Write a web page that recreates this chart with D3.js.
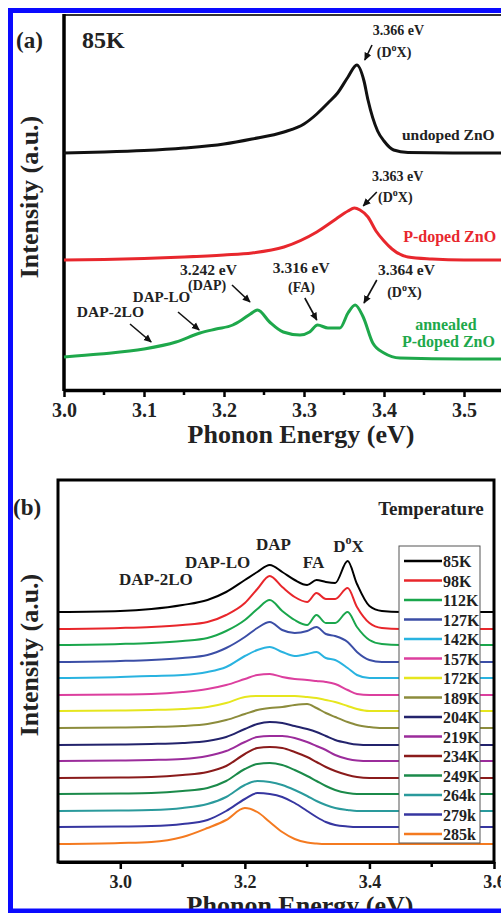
<!DOCTYPE html>
<html>
<head>
<meta charset="utf-8">
<script src="https://cdn.jsdelivr.net/npm/d3@7"></script>
<style>
  body { margin: 0; background: #fff; }
  svg { display: block; font-family: "Liberation Serif", "Times New Roman", serif; font-weight: bold; }
</style>
</head>
<body>
<script>
// ---------- panel (a): 85K spectra ----------
const energyUndoped = [3.00, 3.05, 3.10, 3.15, 3.20, 3.235, 3.275, 3.30, 3.316, 3.33, 3.342, 3.355, 3.366, 3.375, 3.38, 3.392, 3.40, 3.412, 3.43, 3.50, 3.60];
const undoped       = [0, 1, 2.5, 5, 9, 14, 21, 29, 39, 50, 60, 76, 88, 72, 53, 22, 12, 3, 0.5, 0, 0];

const energyPdoped = [3.00, 3.05, 3.10, 3.15, 3.20, 3.235, 3.275, 3.316, 3.34, 3.355, 3.363, 3.37, 3.38, 3.39, 3.40, 3.41, 3.43, 3.46, 3.50, 3.60];
const pdoped       = [0, 0.5, 1.5, 3, 5, 7, 13, 28, 41, 49, 52, 50, 43, 29, 19, 11, 3, 1, 0, 0];

const energyAnnealed = [3.00, 3.045, 3.10, 3.14, 3.17, 3.19, 3.211, 3.222, 3.233, 3.242, 3.257, 3.274, 3.295, 3.307, 3.317, 3.33, 3.345, 3.355, 3.364, 3.374, 3.386, 3.40, 3.42, 3.50, 3.60];
const annealed       = [2, 5, 10, 17, 26, 30, 34, 39, 45, 49, 37, 27, 24, 27, 34, 31, 31, 46, 54, 42, 16, 6, 1, 0, 0];

const offsetsA = [237, 130, 31];
const colorsA  = ["#111111", "#e8272d", "#1ea84b"];

// ---------- panel (b): temperature series ----------
const energyB = [2.90, 3.00, 3.05, 3.10, 3.14, 3.17, 3.20, 3.22, 3.24, 3.26, 3.28, 3.30, 3.315, 3.33, 3.345, 3.365, 3.38, 3.40, 3.42, 3.45, 3.60];
const temps   = ["85K", "98K", "112K", "127K", "142K", "157K", "172K", "189K", "204K", "219K", "234K", "249K", "264k", "279k", "285k"];
const offsetsB = [250, 233, 217, 200, 184, 167, 151, 134, 117, 101, 84, 68, 51, 35, 18];

const t85  = [0, 1, 3, 7, 12, 20, 32, 40, 47, 40, 32, 27, 32, 30, 29, 51, 28, 6, 1, 0, 0];
const t98  = [0, 1, 2, 4, 7, 14, 26, 40, 53, 42, 32, 27, 36, 30, 30, 41, 22, 6, 1, 0, 0];
const t112 = [0, 1, 2, 4, 7, 14, 25, 36, 45, 34, 25, 20, 30, 22, 22, 33, 18, 5, 1, 0, 0];
const t127 = [0, 1, 2, 4, 7, 14, 25, 34, 40, 32, 29, 31, 35, 28, 26, 20, 10, 2, 0, 0, 0];
const t142 = [0, 1, 2, 3, 6, 11, 22, 28, 31, 26, 22, 24, 26, 20, 18, 10, 3, 0, 0, 0, 0];
const t157 = [0, 0.5, 1, 3, 6, 10, 16, 20, 21, 18, 16, 15, 14, 13, 11, 5, 1, 0, 0, 0, 0];
const t172 = [0, 0.5, 1, 2, 4, 8, 14, 15, 15, 15, 15, 14, 13, 11, 9, 5, 2, 0, 0, 0, 0];
const t189 = [0, 0.5, 1, 2, 4, 8, 14, 18, 20, 21, 23, 24, 20, 15, 11, 6, 3, 1, 0, 0, 0];
const t204 = [0, 0.5, 1, 2, 4, 8, 16, 21, 23, 22, 19, 16, 13, 9, 5, 2, 0.5, 0, 0, 0, 0];
const t219 = [0, 0.5, 1, 2, 5, 10, 19, 24, 25, 25, 23, 19, 15, 11, 6, 2, 0.5, 0, 0, 0, 0];
const t234 = [0, 0.5, 1, 3, 6, 12, 24, 30, 31, 30, 26, 21, 16, 11, 7, 3, 1, 0, 0, 0, 0];
const t249 = [0, 0.5, 1, 3, 6, 13, 25, 30, 31, 29, 24, 18, 13, 8, 4, 1, 0, 0, 0, 0, 0];
const t264 = [0, 0.5, 1, 3, 7, 14, 26, 30, 29, 26, 21, 15, 10, 6, 3, 1, 0, 0, 0, 0, 0];
const t279 = [0, 0.5, 1, 3, 7, 16, 28, 34, 33, 30, 24, 16, 10, 5, 2, 0.5, 0, 0, 0, 0, 0];
const t285 = [0, 1, 2, 7, 16, 24, 36, 32, 22, 12, 5, 1.5, 0.5, 0, 0, 0, 0, 0, 0, 0, 0];
const seriesB = [t85, t98, t112, t127, t142, t157, t172, t189, t204, t219, t234, t249, t264, t279, t285];
const colorsB = ["#000000", "#e8262b", "#1aa64c", "#3b4ea6", "#29b3e0", "#dc3f9e", "#e6e61e", "#8c8c3c",
                 "#23236c", "#9b2c9b", "#8a1b1b", "#1b8a4a", "#2a9a9c", "#3636a0", "#f47a20"];

const ticksA = [3.0, 3.1, 3.2, 3.3, 3.4, 3.5];
const minorA = [3.05, 3.15, 3.25, 3.35, 3.45, 3.55];
const ticksB = [3.0, 3.2, 3.4, 3.6];
const minorB = [3.1, 3.3, 3.5];

const W = 501, H = 913;
const svg = d3.select("body").append("svg").attr("width", W).attr("height", H);

svg.append("defs").append("marker")
    .attr("id", "arr").attr("viewBox", "0 0 10 10")
    .attr("refX", 9).attr("refY", 5)
    .attr("markerWidth", 5).attr("markerHeight", 5)
    .attr("orient", "auto")
  .append("path").attr("d", "M0,0.5L10,5L0,9.5z").attr("fill", "#111");

// ================= panel (a) =================
let xA = d3.scaleLinear().domain([3.0, 3.6]).range([64, 544]);
let yA = d3.scaleLinear().domain([0, 376]).range([390, 14]);

let gA = svg.append("g");
gA.append("line").attr("x1", 64).attr("x2", W).attr("y1", 15).attr("y2", 15)
    .attr("stroke", "#333").attr("stroke-width", 2);
gA.append("line").attr("x1", 64).attr("x2", 64).attr("y1", 14).attr("y2", 391)
    .attr("stroke", "#000").attr("stroke-width", 3.5);

let lineA = (xs, ys, off) => d3.line()
    .x((d, i) => xA(xs[i]))
    .y((d) => yA(d + off))
    .curve(d3.curveMonotoneX)(ys);

[[energyUndoped, undoped], [energyPdoped, pdoped], [energyAnnealed, annealed]].forEach((s, k) => {
    gA.append("path")
        .attr("d", lineA(s[0], s[1], offsetsA[k]))
        .attr("fill", "none")
        .attr("stroke", colorsA[k])
        .attr("stroke-width", 3);
});

let axA = gA.append("g").attr("transform", "translate(0,390)")
    .call(d3.axisBottom(xA).tickValues(ticksA).tickSize(7).tickSizeOuter(0).tickFormat(d3.format(".1f")));
axA.select(".domain").attr("stroke-width", 3.5);
axA.selectAll(".tick line").attr("stroke-width", 2.5);
axA.selectAll("text").attr("dy", null).attr("y", 27)
    .style("font-size", "20px").style("font-family", "Liberation Serif").style("font-weight", "bold").attr("fill", "#222");
gA.selectAll(".minA").data(minorA).enter().append("line")
    .attr("x1", (d) => xA(d)).attr("x2", (d) => xA(d))
    .attr("y1", 390).attr("y2", 395).attr("stroke", "#000").attr("stroke-width", 2.5);

gA.append("text").attr("x", 301).attr("y", 443).attr("text-anchor", "middle")
    .style("font-size", "26px").attr("fill", "#222").text("Phonon Energy (eV)");
gA.append("text").attr("transform", "translate(38,197) rotate(-90)").attr("text-anchor", "middle")
    .style("font-size", "26px").attr("fill", "#222").text("Intensity (a.u.)");
gA.append("text").attr("x", 16).attr("y", 48).style("font-size", "23px").attr("fill", "#222").text("(a)");
gA.append("text").attr("x", 82).attr("y", 48).style("font-size", "24px").attr("fill", "#222").text("85K");

// annotations, in data units (energy, a.u.)
const labelsA = [
    { e: 3.386, v: 355, t: "3.366 eV", s: 14 },
    { e: 3.391, v: 333, t: "D0X", s: 14 },
    { e: 3.4225, v: 250, t: "undoped ZnO", s: 15.5 },
    { e: 3.385, v: 209, t: "3.363 eV", s: 14 },
    { e: 3.3925, v: 188, t: "D0X", s: 14 },
    { e: 3.424, v: 148, t: "P-doped ZnO", s: 16, c: colorsA[1] },
    { e: 3.145, v: 115, t: "3.242 eV", s: 15.5 },
    { e: 3.155, v: 100, t: "(DAP)", s: 14 },
    { e: 3.086, v: 88, t: "DAP-LO", s: 15 },
    { e: 3.016, v: 73, t: "DAP-2LO", s: 15.5 },
    { e: 3.261, v: 117, t: "3.316 eV", s: 15.5 },
    { e: 3.28, v: 98, t: "(FA)", s: 14 },
    { e: 3.3925, v: 115, t: "3.364 eV", s: 15.5 },
    { e: 3.404, v: 93, t: "D0X", s: 14 },
    { e: 3.439, v: 60, t: "annealed", s: 16, c: colorsA[2] },
    { e: 3.4225, v: 43, t: "P-doped ZnO", s: 16, c: colorsA[2] }
];
const arrowsA = [
    [3.385, 345, 3.376, 330], [3.391, 198, 3.374, 184], [3.21, 105, 3.2325, 88],
    [3.1425, 78, 3.169, 60], [3.0825, 66, 3.109, 48], [3.301, 92, 3.316, 70], [3.391, 110, 3.375, 87]
];

labelsA.forEach((l) => {
    let t = gA.append("text").attr("x", xA(l.e)).attr("y", yA(l.v))
        .style("font-size", l.s + "px").attr("fill", l.c || "#222");
    if (l.t == "D0X") {
        t.append("tspan").text("(D");
        t.append("tspan").attr("dy", -6).style("font-size", "10px").text("o");
        t.append("tspan").attr("dy", 6).text("X)");
    } else {
        t.text(l.t);
    }
});
arrowsA.forEach((a) => {
    gA.append("line")
        .attr("x1", xA(a[0])).attr("y1", yA(a[1]))
        .attr("x2", xA(a[2])).attr("y2", yA(a[3]))
        .attr("stroke", "#111").attr("stroke-width", 1.6)
        .attr("marker-end", "url(#arr)");
});

// ================= panel (b) =================
let xB = d3.scaleLinear().domain([2.9, 3.6]).range([58, 494]);
let yB = d3.scaleLinear().domain([0, 382]).range([862, 480]);

let gB = svg.append("g");
let lineB = (ys, off) => d3.line()
    .x((d, i) => xB(energyB[i]))
    .y((d) => yB(d + off))
    .curve(d3.curveMonotoneX)(ys);

seriesB.forEach((s, k) => {
    gB.append("path")
        .attr("d", lineB(s, offsetsB[k]))
        .attr("fill", "none")
        .attr("stroke", colorsB[k])
        .attr("stroke-width", 2);
});

// legend
let leg = gB.append("g");
leg.append("rect").attr("x", 399).attr("y", 546).attr("width", 81).attr("height", 297)
    .attr("fill", "#fff").attr("stroke", "#555").attr("stroke-width", 1);
temps.forEach((t, k) => {
    let y = 561 + k * 19.5;
    leg.append("line").attr("x1", 404).attr("x2", 442).attr("y1", y).attr("y2", y)
        .attr("stroke", colorsB[k]).attr("stroke-width", 2.5);
    leg.append("text").attr("x", 443).attr("y", y + 6).style("font-size", "16px").attr("fill", "#222").text(t);
});

gB.append("rect").attr("x", 58).attr("y", 480).attr("width", 436).attr("height", 382)
    .attr("fill", "none").attr("stroke", "#000").attr("stroke-width", 3);

let axB = gB.append("g").attr("transform", "translate(0,862)")
    .call(d3.axisBottom(xB).tickValues(ticksB).tickSize(7).tickSizeOuter(0).tickFormat(d3.format(".1f")));
axB.select(".domain").attr("stroke-width", 3);
axB.selectAll(".tick line").attr("stroke-width", 2.5);
axB.selectAll("text").attr("dy", null).attr("y", 26)
    .style("font-size", "18px").style("font-family", "Liberation Serif").style("font-weight", "bold").attr("fill", "#222");
gB.selectAll(".minB").data(minorB).enter().append("line")
    .attr("x1", (d) => xB(d)).attr("x2", (d) => xB(d))
    .attr("y1", 862).attr("y2", 867).attr("stroke", "#000").attr("stroke-width", 2.5);

gB.append("text").attr("x", 300).attr("y", 914).attr("text-anchor", "middle")
    .style("font-size", "26px").attr("fill", "#222").text("Phonon Energy (eV)");
gB.append("text").attr("transform", "translate(38,655) rotate(-90)").attr("text-anchor", "middle")
    .style("font-size", "26px").attr("fill", "#222").text("Intensity (a.u.)");
gB.append("text").attr("x", 13).attr("y", 515).style("font-size", "23px").attr("fill", "#222").text("(b)");

const labelsB = [
    { e: 2.998, v: 277, t: "DAP-2LO" },
    { e: 3.104, v: 294, t: "DAP-LO" },
    { e: 3.218, v: 312, t: "DAP" },
    { e: 3.293, v: 294, t: "FA" },
    { e: 3.342, v: 310, t: "D0X" },
    { e: 3.414, v: 347, t: "Temperature", s: 19 }
];
labelsB.forEach((l) => {
    let t = gB.append("text").attr("x", xB(l.e)).attr("y", yB(l.v))
        .style("font-size", (l.s || 17) + "px").attr("fill", "#222");
    if (l.t == "D0X") {
        t.append("tspan").text("D");
        t.append("tspan").attr("dy", -8).style("font-size", "12px").text("o");
        t.append("tspan").attr("dy", 8).text("X");
    } else {
        t.text(l.t);
    }
});

// blue outline around the figure
svg.append("rect").attr("x", 10.5).attr("y", 10.5).attr("width", 600).attr("height", 900.5)
    .attr("fill", "none").attr("stroke", "#0a0aff").attr("stroke-width", 5);
</script>
</body>
</html>
